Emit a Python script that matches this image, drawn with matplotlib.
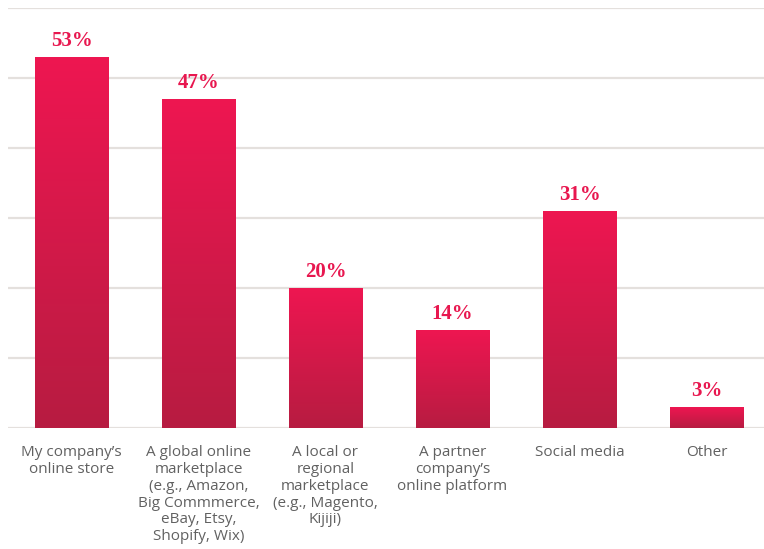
import matplotlib.pyplot as plt
import numpy as np
from matplotlib.colors import LinearSegmentedColormap

# channel shares (%)
categories = [
    "My company’s\nonline store",
    "A global online\nmarketplace\n(e.g., Amazon,\nBig Commmerce,\neBay, Etsy,\nShopify, Wix)",
    "A local or\nregional\nmarketplace\n(e.g., Magento,\nKijiji)",
    "A partner\ncompany’s\nonline platform",
    "Social media",
    "Other",
]
values = [53, 47, 20, 14, 31, 3]

top_col = "#ee1651"
bottom_col = "#b71c41"
label_col = "#e8174f"
grid_col = "#e4e0dd"

fig = plt.figure(figsize=(7.64, 5.49), dpi=100)
ax = fig.add_axes([8 / 764, 121 / 549, 762 / 764, 420 / 549])

cmap = LinearSegmentedColormap.from_list("bar", [bottom_col, top_col])
grad = np.linspace(0, 1, 256).reshape(-1, 1)
width = 0.575

x = np.arange(len(values))
for xi, v in zip(x, values):
    # gradient fill per bar, dark at the bottom
    ax.imshow(grad, cmap=cmap, origin="lower", aspect="auto",
              extent=[xi - width / 2, xi + width / 2, 0, v], zorder=3)
    ax.annotate(f"{v}%", (xi, v), xytext=(0, 4), textcoords="offset points",
                ha="center", va="bottom", fontsize=15, fontweight="bold",
                family="Liberation Serif", color=label_col)

ax.set_xlim(-0.5, len(values) - 0.5)
ax.set_ylim(0, 60)
ax.set_yticks(range(0, 61, 10))
ax.yaxis.grid(True, color=grid_col, linewidth=1.6)
ax.set_axisbelow(True)
for s in ax.spines.values():
    s.set_visible(False)
ax.tick_params(axis="y", left=False, labelleft=False)
ax.tick_params(axis="x", bottom=False, pad=9)
ax.set_xticks(x)
ax.set_xticklabels(categories, fontsize=11, family="Open Sans",
                   color="#616161", linespacing=1.16, va="top")

fig.savefig("out.png", dpi=100)
